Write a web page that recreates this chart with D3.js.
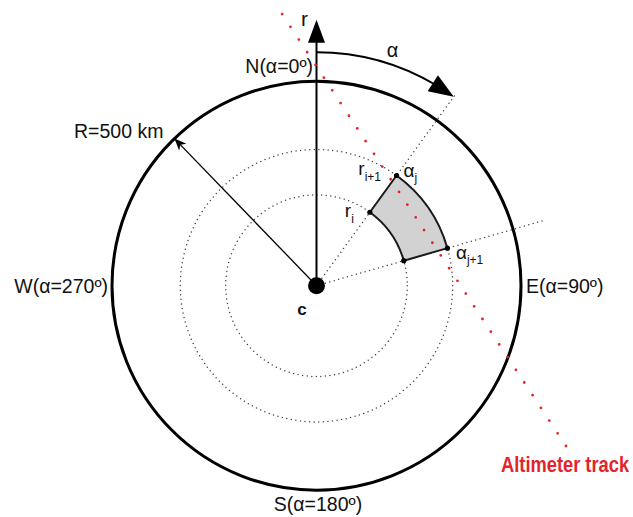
<!DOCTYPE html>
<html>
<head>
<meta charset="utf-8">
<script src="https://cdn.jsdelivr.net/npm/d3@7/dist/d3.min.js"></script>
<style>
  html, body { margin: 0; padding: 0; background: #fff; }
  svg { display: block; }
  text { font-family: "Liberation Sans", Arial, Helvetica, sans-serif; fill: #111; }
</style>
</head>
<body>
<svg id="chart" width="633" height="517"></svg>
<script>
// Polar grid around the centre c (distances in km, angles in degrees clockwise from north)
const boundaryKm = 500;
const ringRadiiKm = [222, 333];
const sectorRadiiKm = [222, 333];          // r_i, r_{i+1}
const sectorAnglesDeg = [36, 74];          // α_j, α_{j+1}
const compassLabels = ["N(α=0º)", "E(α=90º)", "S(α=180º)", "W(α=270º)"];
const compassAngles = [0, 90, 180, 270];
const radiusLabel = "R=500 km";
const radiusArrowAngle = [316];
const rAxisLengthKm = [650];
const alphaArcKm = [571];
const alphaArcEndDeg = [36];
const radialExtentKm = [575];
// Altimeter ground track end points, [east, north] km from c
const trackStartKm = [-84, 664];
const trackEndKm = [610, -392];
const trackLabel = "Altimeter track";

const svg = d3.select("#chart");
const cx = 316.5, cy = 285.7, Rpx = 204.5;

const rScale = d3.scaleLinear().domain([0, boundaryKm]).range([0, Rpx]);
const xKm = d3.scaleLinear().domain([-boundaryKm, boundaryKm]).range([cx - Rpx, cx + Rpx]);
const yKm = d3.scaleLinear().domain([-boundaryKm, boundaryKm]).range([cy + Rpx, cy - Rpx]);
const rad = d => d * Math.PI / 180;
const polar = (km, deg) => [cx + rScale(km) * Math.sin(rad(deg)), cy - rScale(km) * Math.cos(rad(deg))];

const red = "#e3242b";
const dotStyle = sel => sel.attr("fill", "none").attr("stroke", "#444")
  .attr("stroke-width", 1.5).attr("stroke-linecap", "round").attr("stroke-dasharray", "0 4.6");

// Dotted range rings
svg.append("g").selectAll("circle").data(ringRadiiKm).join("circle")
  .attr("cx", cx).attr("cy", cy).attr("r", d => rScale(d))
  .call(dotStyle);

// Dotted radials through the sector edges
svg.append("g").selectAll("line").data(sectorAnglesDeg).join("line")
  .attr("x1", cx).attr("y1", cy)
  .attr("x2", d => polar(radialExtentKm[0], d)[0])
  .attr("y2", d => polar(radialExtentKm[0], d)[1])
  .call(dotStyle);

// Boundary circle
svg.append("circle").attr("cx", cx).attr("cy", cy).attr("r", rScale(boundaryKm))
  .attr("fill", "none").attr("stroke", "#000").attr("stroke-width", 3);

// Grid cell (r_i..r_{i+1}, α_j..α_{j+1})
const cellArc = d3.arc()
  .innerRadius(rScale(sectorRadiiKm[0])).outerRadius(rScale(sectorRadiiKm[1]))
  .startAngle(rad(sectorAnglesDeg[0])).endAngle(rad(sectorAnglesDeg[1]));
svg.append("path").attr("transform", `translate(${cx},${cy})`).attr("d", cellArc())
  .attr("fill", "#d2d2d2").attr("stroke", "#1a1a1a").attr("stroke-width", 2)
  .attr("stroke-linejoin", "round");

const corners = [];
sectorRadiiKm.forEach(r => sectorAnglesDeg.forEach(a => corners.push(polar(r, a))));
svg.append("g").selectAll("circle").data(corners).join("circle")
  .attr("cx", d => d[0]).attr("cy", d => d[1]).attr("r", 2.6).attr("fill", "#000");

// R arrow from the centre to the boundary
svg.append("defs").append("marker")
  .attr("id", "barb").attr("viewBox", "-12 -6 13 12")
  .attr("refX", 0).attr("refY", 0).attr("markerWidth", 13).attr("markerHeight", 12)
  .attr("markerUnits", "userSpaceOnUse").attr("orient", "auto")
  .append("path").attr("d", "M0,0 L-12,-5 L-8.5,0 L-12,5 Z").attr("fill", "#000");
const rTip = polar(boundaryKm, radiusArrowAngle[0]);
svg.append("line").attr("x1", cx).attr("y1", cy).attr("x2", rTip[0]).attr("y2", rTip[1])
  .attr("stroke", "#000").attr("stroke-width", 1.3).attr("marker-end", "url(#barb)");

// Vertical r axis with arrow head
const axisTip = polar(rAxisLengthKm[0], 0);
const axisHeadLen = 23, axisHeadHalf = 8.5;
svg.append("line").attr("x1", cx).attr("y1", cy).attr("x2", cx).attr("y2", axisTip[1] + axisHeadLen - 1)
  .attr("stroke", "#000").attr("stroke-width", 2);
svg.append("path")
  .attr("d", `M${cx},${axisTip[1]} L${cx - axisHeadHalf},${axisTip[1] + axisHeadLen} L${cx + axisHeadHalf},${axisTip[1] + axisHeadLen} Z`)
  .attr("fill", "#000");

// α arc (clockwise from north) with arrow head
const arcR = rScale(alphaArcKm[0]);
const headLen = 25, headHalf = 9.5;
const tip = polar(alphaArcKm[0], alphaArcEndDeg[0]);
const headBaseDeg = alphaArcEndDeg[0] - (headLen / arcR) * 180 / Math.PI;
const base = polar(alphaArcKm[0], headBaseDeg);
const ux = (tip[0] - base[0]) / Math.hypot(tip[0] - base[0], tip[1] - base[1]);
const uy = (tip[1] - base[1]) / Math.hypot(tip[0] - base[0], tip[1] - base[1]);
const p = d3.path();
const start = polar(alphaArcKm[0], 0);
p.moveTo(start[0], start[1]);
p.arc(cx, cy, arcR, rad(-90), rad(headBaseDeg - 90 + 1), false);
svg.append("path").attr("d", p.toString()).attr("fill", "none").attr("stroke", "#000").attr("stroke-width", 2);
svg.append("path")
  .attr("d", `M${tip[0]},${tip[1]} L${base[0] - uy * headHalf},${base[1] + ux * headHalf} L${base[0] + uy * headHalf},${base[1] - ux * headHalf} Z`)
  .attr("fill", "#000");

// Centre point
svg.append("circle").attr("cx", cx).attr("cy", cy).attr("r", 8.5).attr("fill", "#000");

// Altimeter track as evenly spaced red dots
svg.append("line")
  .attr("x1", xKm(trackStartKm[0])).attr("y1", yKm(trackStartKm[1]))
  .attr("x2", xKm(trackEndKm[0])).attr("y2", yKm(trackEndKm[1]))
  .attr("stroke", red).attr("stroke-width", 2.8).attr("stroke-linecap", "round")
  .attr("stroke-dasharray", "0 15.2");

// Labels
const edgeTop = cy - Rpx, edgeBottom = cy + Rpx, edgeLeft = cx - Rpx, edgeRight = cx + Rpx;
const compassPlacement = {
  0:   { x: cx - 3.5, y: edgeTop - 8, anchor: "end" },
  90:  { x: edgeRight + 5, y: cy + 7, anchor: "start" },
  180: { x: cx + 1.5, y: edgeBottom + 21, anchor: "middle" },
  270: { x: edgeLeft - 4, y: cy + 7, anchor: "end" }
};
svg.append("g").selectAll("text").data(compassLabels).join("text")
  .attr("x", (d, i) => compassPlacement[compassAngles[i]].x)
  .attr("y", (d, i) => compassPlacement[compassAngles[i]].y)
  .attr("text-anchor", (d, i) => compassPlacement[compassAngles[i]].anchor)
  .attr("font-size", 19.5).text(d => d);

svg.append("text").attr("x", 74).attr("y", 138).attr("font-size", 19.5).text(radiusLabel);
svg.append("text").attr("x", axisTip[0] - 12).attr("y", 26).attr("text-anchor", "middle").attr("font-size", 21).text("r");
svg.append("text").attr("x", 392.5).attr("y", 57).attr("text-anchor", "middle").attr("font-size", 20).text("α");
svg.append("text").attr("x", cx - 14.5).attr("y", cy + 29.5).attr("text-anchor", "middle")
  .attr("font-size", 17).attr("font-weight", "bold").text("c");

function subLabel(x, y, anchor, main, sub, dy) {
  const t = svg.append("text").attr("x", x).attr("y", y).attr("text-anchor", anchor);
  t.append("tspan").attr("font-size", 19).text(main);
  t.append("tspan").attr("font-size", 12).attr("dy", dy).text(sub);
}
const cRi = polar(sectorRadiiKm[0], sectorAnglesDeg[0]);
const cAj = polar(sectorRadiiKm[1], sectorAnglesDeg[0]);
const cAj1 = polar(sectorRadiiKm[1], sectorAnglesDeg[1]);
subLabel(cAj[0] - 15.5, cAj[1] - 0.5, "end", "r", "i+1", 6);
subLabel(cAj[0] + 7, cAj[1] + 1.5, "start", "α", "j", 5);
subLabel(cRi[0] - 16, cRi[1] + 5, "end", "r", "i", 6);
subLabel(cAj1[0] + 8.5, cAj1[1] + 10.5, "start", "α", "j+1", 5);

// Track label: condensed look by stretching vertically
svg.append("text").attr("transform", "translate(501,472) scale(1,1.18)")
  .attr("font-size", 18.3).attr("font-weight", "bold")
  .style("fill", red).text(trackLabel);
</script>
</body>
</html>
